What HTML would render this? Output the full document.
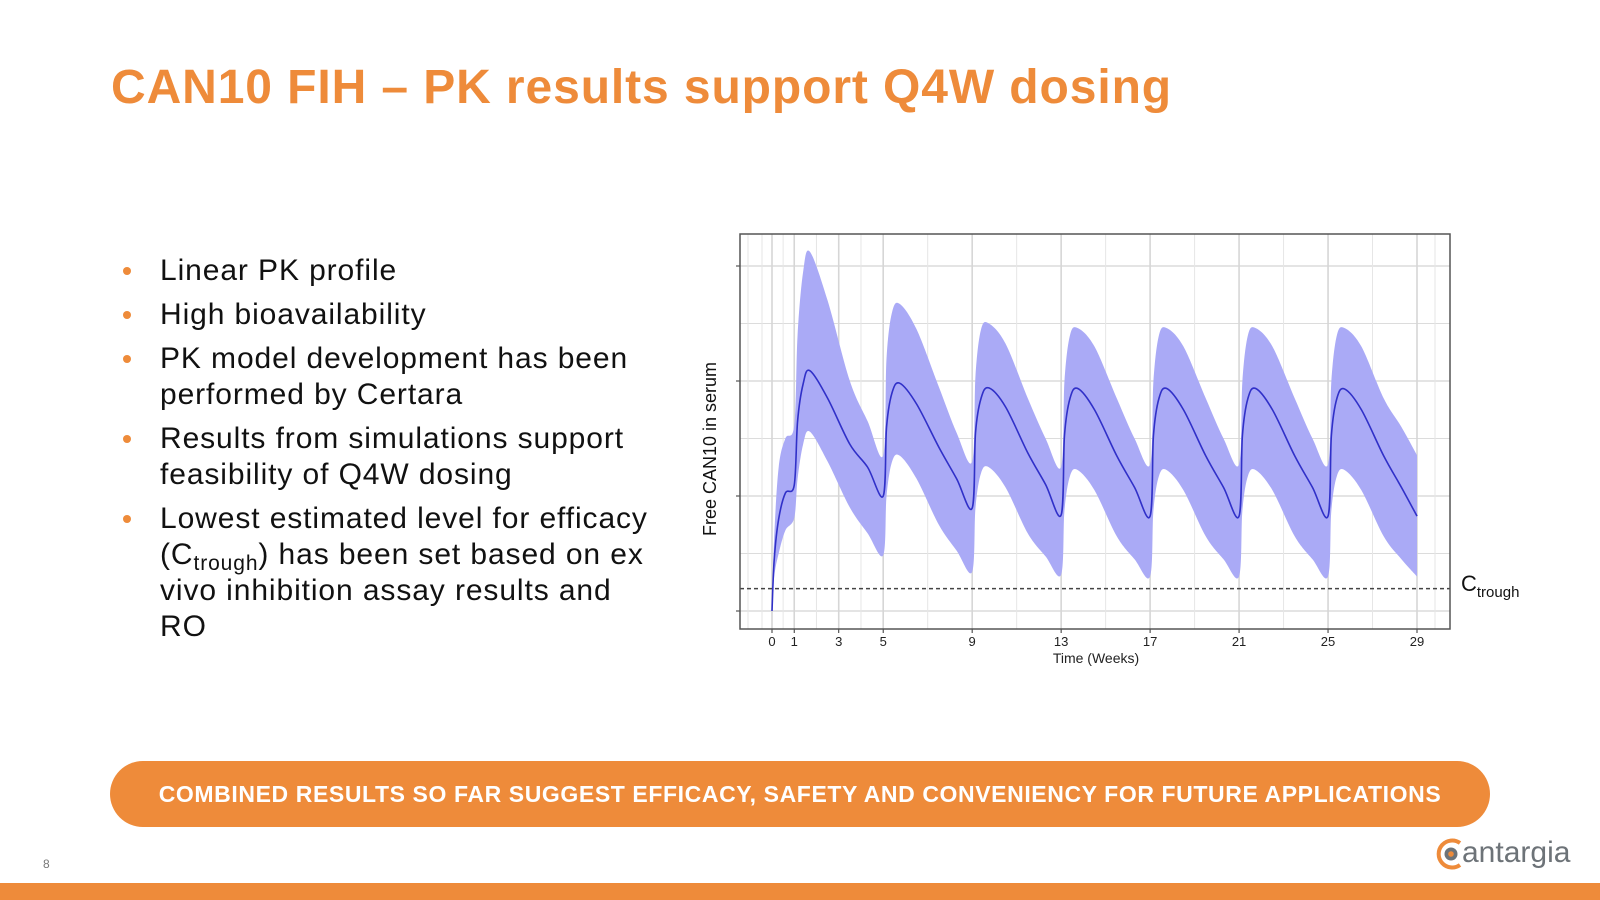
<!DOCTYPE html>
<html><head><meta charset="utf-8"><style>
body{margin:0;width:1600px;height:900px;position:relative;background:#fff;font-family:"Liberation Sans",sans-serif;overflow:hidden}
.t{position:absolute;white-space:nowrap}
#title{left:111px;top:60px;font-size:48px;font-weight:bold;color:#EE8B3A;letter-spacing:0.9px}
ul{position:absolute;left:118px;top:253px;margin:0;padding:0;list-style:none;font-size:30px;color:#111;line-height:36px;letter-spacing:0.9px}
li{position:relative;padding-left:42px;margin-bottom:8px;white-space:nowrap}
li:before{content:"";position:absolute;left:5px;top:14px;width:8px;height:8px;border-radius:50%;background:#EE8B3A}
sub{font-size:21px;line-height:0;vertical-align:-6px}
#banner{position:absolute;left:110px;top:761px;width:1380px;height:66px;border-radius:33px;background:#EE8B3A;color:#fff;font-weight:bold;font-size:23px;text-align:center;line-height:66px;letter-spacing:0.6px;white-space:nowrap}
#bar{position:absolute;left:0;top:883px;width:1600px;height:17px;background:#EE8B3A}
</style></head><body>
<div class="t" id="title">CAN10 FIH – PK results support Q4W dosing</div>
<ul>
<li>Linear PK profile</li>
<li>High bioavailability</li>
<li>PK model development has been<br>performed by Certara</li>
<li>Results from simulations support<br>feasibility of Q4W dosing</li>
<li>Lowest estimated level for efficacy<br>(C<sub>trough</sub>) has been set based on ex<br>vivo inhibition assay results and<br>RO</li>
</ul>
<svg id="chart" style="position:absolute;left:0;top:0" width="1600" height="900"></svg>
<div id="banner">COMBINED RESULTS SO FAR SUGGEST EFFICACY, SAFETY AND CONVENIENCY FOR FUTURE APPLICATIONS</div>
<div class="t" style="left:43px;top:857px;font-size:12px;color:#777">8</div>
<div style="position:absolute;left:1434px;top:837px;height:36px;width:140px">
<svg width="34" height="34" style="position:absolute;left:0;top:0"><path d="M26 6 A13.5 13.5 0 1 0 26 28" fill="none" stroke="#EE8B3A" stroke-width="4"/><circle cx="17" cy="17" r="6.5" fill="#6d7378"/><circle cx="17" cy="17" r="2.8" fill="#EE8B3A"/></svg>
<div class="t" style="left:28px;top:-1px;font-size:30px;color:#6d7378">antargia</div></div>
<div id="bar"></div>
<script>
const weeks =[0,0.1,0.3,0.6,1,1.15,1.4,1.7,2.5,3.5,4.3,5, 5.15,5.4,5.75,6.5,7.5,8.3,9, 9.15,9.4,9.75,10.5,11.5,12.3,13, 13.15,13.4,13.75,14.5,15.5,16.3,17, 17.15,17.4,17.75,18.5,19.5,20.3,21, 21.15,21.4,21.75,22.5,23.5,24.3,25, 25.15,25.4,25.75,26.5,27.5,28.3,29];
const median=[0,0.9,1.6,2.05,2.19,3.3,3.95,4.18,3.7,2.9,2.5,2.0, 3.2,3.8,3.96,3.6,2.85,2.3,1.79, 3.1,3.7,3.88,3.55,2.75,2.2,1.67, 3.05,3.7,3.87,3.5,2.7,2.15,1.65, 3.05,3.7,3.87,3.5,2.7,2.15,1.65, 3.05,3.7,3.87,3.5,2.7,2.15,1.65, 3.05,3.7,3.86,3.5,2.7,2.15,1.65];
const upper=[0,1.3,2.5,3.0,3.23,4.8,5.9,6.25,5.4,4.0,3.3,2.71, 4.4,5.2,5.34,4.9,3.9,3.1,2.6, 4.1,4.9,5.0,4.65,3.7,3.0,2.51, 4.0,4.8,4.92,4.6,3.7,3.0,2.55, 4.0,4.8,4.92,4.6,3.7,3.0,2.55, 4.0,4.8,4.92,4.6,3.7,3.0,2.55, 4.0,4.8,4.92,4.6,3.7,3.2,2.71];
const lower=[0,0.6,1.0,1.4,1.62,2.3,2.9,3.12,2.6,1.8,1.35,0.97, 2.0,2.6,2.7,2.3,1.5,1.05,0.68, 1.8,2.4,2.5,2.15,1.35,0.95,0.63, 1.75,2.35,2.45,2.1,1.3,0.9,0.6, 1.75,2.35,2.45,2.1,1.3,0.9,0.6, 1.75,2.35,2.45,2.1,1.3,0.9,0.6, 1.75,2.35,2.45,2.1,1.3,0.9,0.6];
const xTicks=[0,1,3,5,9,13,17,21,25,29];
const yGrid=[0,1,2,3,4,5,6];
const cTrough=0.39;
const NS="http://www.w3.org/2000/svg";
const svg=document.getElementById('chart');
const L=740,T=234,R=1450,B=629;
const x=w=>772+w*(1417-772)/29;
const y=v=>611-v*57.5;
function mk(tag,attrs,name){const e=document.createElementNS(NS,tag);for(const k in attrs)e.setAttribute(k,attrs[k]);


svg.appendChild(e);return e;}
yGrid.forEach(v=>{mk('line',{x1:L,x2:R,y1:y(v),y2:y(v),stroke:'#dcdcdc','stroke-width':v%2?1:1.6},'y-gridline');
 if(v%2==0)mk('line',{x1:L-4,x2:L,y1:y(v),y2:y(v),stroke:'#333'},'y-tick');});
mk('line',{x1:L+8,x2:L+8,y1:T,y2:B,stroke:'#e6e6e6'},'x-minor-gridline');
mk('line',{x1:L+22,x2:L+22,y1:T,y2:B,stroke:'#e6e6e6'},'x-minor-gridline');
xTicks.forEach((w,i)=>{mk('line',{x1:x(w),x2:x(w),y1:T,y2:B,stroke:'#d6d6d6','stroke-width':1.6},'x-gridline');
 if(i<xTicks.length-1)mk('line',{x1:x((w+xTicks[i+1])/2),x2:x((w+xTicks[i+1])/2),y1:T,y2:B,stroke:'#e6e6e6'},'x-minor-gridline');
 mk('line',{x1:x(w),x2:x(w),y1:B,y2:B+4,stroke:'#333'},'x-tick');
 const t=mk('text',{x:x(w),y:B+17,'text-anchor':'middle','font-size':13,fill:'#222'},'x-tick-label');t.textContent=w;});
mk('line',{x1:x(29)+18,x2:x(29)+18,y1:T,y2:B,stroke:'#e6e6e6'},'x-minor-gridline');
function pts(arr){return weeks.map((w,i)=>[x(w),y(arr[i])]);}
function smooth(p){let d='M'+p[0].join(',');for(let i=0;i<p.length-1;i++){const p0=p[Math.max(0,i-1)],p1=p[i],p2=p[i+1],p3=p[Math.min(p.length-1,i+2)];
 const c1=[p1[0]+(p2[0]-p0[0])/6,p1[1]+(p2[1]-p0[1])/6],c2=[p2[0]-(p3[0]-p1[0])/6,p2[1]-(p3[1]-p1[1])/6];
 d+='C'+c1.join(',')+' '+c2.join(',')+' '+p2.join(',');}return d;}
const up=pts(upper),lo=pts(lower).reverse();
mk('path',{d:smooth(up)+'L'+smooth(lo).slice(1)+'Z',fill:'#aaaaf6',stroke:'none'},'confidence-band');
mk('path',{d:smooth(pts(median)),fill:'none',stroke:'#3030c8','stroke-width':1.6,'stroke-linejoin':'round'},'median-line');
mk('line',{x1:L,x2:R,y1:y(cTrough),y2:y(cTrough),stroke:'#444','stroke-width':1.5,'stroke-dasharray':'4,3'},'ctrough-line');
mk('rect',{x:L,y:T,width:R-L,height:B-T,fill:'none',stroke:'#555','stroke-width':1.5},'plot-border');
let t=mk('text',{x:1096,y:663,'text-anchor':'middle','font-size':14,fill:'#222'},'x-axis-title');t.textContent='Time (Weeks)';
t=mk('text',{x:716,y:449,'text-anchor':'middle','font-size':18,fill:'#111',transform:'rotate(-90 716 449)'},'y-axis-title');t.textContent='Free CAN10 in serum';
t=mk('text',{x:1461,y:591,'font-size':22,fill:'#111'},'ctrough-label');t.innerHTML='C<tspan font-size="15" dy="6">trough</tspan>';
</script>
</body></html>
